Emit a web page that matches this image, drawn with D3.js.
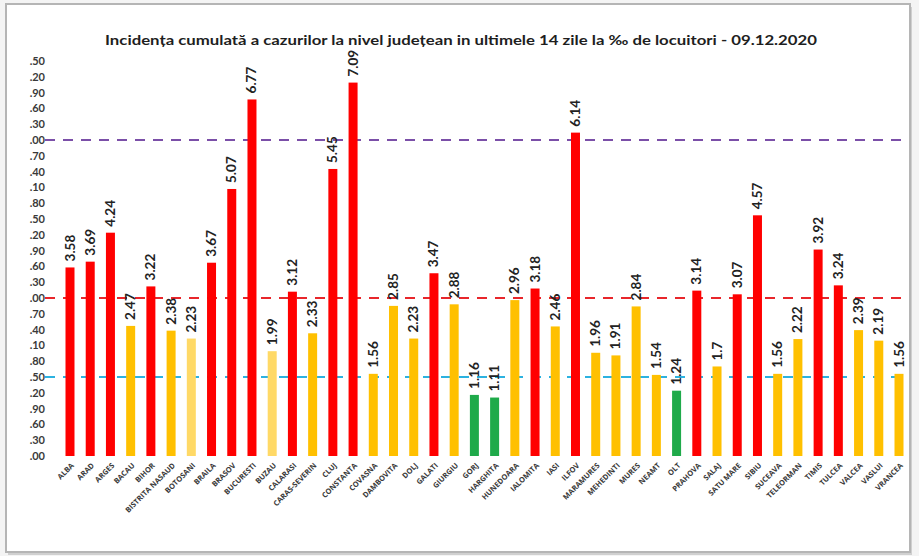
<!DOCTYPE html>
<html>
<head>
<meta charset="utf-8">
<script src="https://cdn.jsdelivr.net/npm/d3@7"></script>
<style>
  html, body { margin: 0; padding: 0; background: #ffffff; }
  svg { display: block; }
</style>
</head>
<body>
<svg id="chart" width="919" height="556"></svg>
<script>
// ---------- DATA ----------
const counties = ["ALBA","ARAD","ARGES","BACAU","BIHOR","BISTRITA NASAUD","BOTOSANI","BRAILA","BRASOV","BUCURESTI",
  "BUZAU","CALARASI","CARAS-SEVERIN","CLUJ","CONSTANTA","COVASNA","DAMBOVITA","DOLJ","GALATI","GIURGIU",
  "GORJ","HARGHITA","HUNEDOARA","IALOMITA","IASI","ILFOV","MARAMURES","MEHEDINTI","MURES","NEAMT",
  "OLT","PRAHOVA","SALAJ","SATU MARE","SIBIU","SUCEAVA","TELEORMAN","TIMIS","TULCEA","VALCEA","VASLUI","VRANCEA"];
const incidence = [3.58,3.69,4.24,2.47,3.22,2.38,2.23,3.67,5.07,6.77,
  1.99,3.12,2.33,5.45,7.09,1.56,2.85,2.23,3.47,2.88,
  1.16,1.11,2.96,3.18,2.46,6.14,1.96,1.91,2.84,1.54,
  1.24,3.14,1.7,3.07,4.57,1.56,2.22,3.92,3.24,2.39,2.19,1.56];
const valueLabels = ["3.58","3.69","4.24","2.47","3.22","2.38","2.23","3.67","5.07","6.77",
  "1.99","3.12","2.33","5.45","7.09","1.56","2.85","2.23","3.47","2.88",
  "1.16","1.11","2.96","3.18","2.46","6.14","1.96","1.91","2.84","1.54",
  "1.24","3.14","1.7","3.07","4.57","1.56","2.22","3.92","3.24","2.39","2.19","1.56"];
const paleCounties = ["BOTOSANI","BUZAU"];
const thresholds = [1.5, 3, 6];
const yTicks = [0,0.3,0.6,0.9,1.2,1.5,1.8,2.1,2.4,2.7,3,3.3,3.6,3.9,4.2,4.5,4.8,5.1,5.4,5.7,6,6.3,6.6,6.9,7.2,7.5];
const title = "Incidența cumulată a cazurilor la nivel județean in ultimele 14 zile la ‰ de locuitori - 09.12.2020";

// ---------- LAYOUT ----------
const svg = d3.select("#chart");
const W = 919, H = 556;

svg.append("rect").attr("x", 0).attr("y", 0).attr("width", W).attr("height", H).attr("fill", "#f4f4f4");
// shadow
svg.append("rect").attr("x", 8).attr("y", 7).attr("width", 904).attr("height", 548).attr("fill", "#d0d0d0");
svg.append("rect").attr("x", 6).attr("y", 4).attr("width", 904).attr("height", 548)
  .attr("fill", "#ffffff").attr("stroke", "#b5b5b5").attr("stroke-width", 2);

const x = d3.scalePoint().domain(counties).range([70, 899]);
const y = d3.scaleLinear().domain([0, 7.5]).range([456, 61]);

const color = d3.scaleThreshold().domain([1.5, 3]).range(["#1faa4a", "#ffc000", "#ff0000"]);
const barColor = (d, i) => paleCounties.includes(counties[i]) ? "#ffd966" : color(d);

// title
svg.append("text")
  .attr("x", 461).attr("y", 45)
  .attr("text-anchor", "middle")
  .attr("font-family", "Lato, 'Open Sans', sans-serif")
  .attr("font-weight", "bold")
  .attr("font-size", 14)
  .attr("fill", "#1e1e1e")
  .attr("textLength", 712)
  .attr("lengthAdjust", "spacingAndGlyphs")
  .text(title);

// y axis labels (leading digit cut off as in the reference)
const yAxis = d3.axisLeft(y).tickValues(yTicks).tickSize(0)
  .tickFormat(d => d3.format(".2f")(d).slice(1));
const gy = svg.append("g").attr("transform", "translate(45,0)").call(yAxis);
gy.select(".domain").remove();
gy.selectAll("text")
  .attr("x", 0)
  .attr("font-family", "Lato, 'Open Sans', sans-serif")
  .attr("font-weight", "bold")
  .attr("font-size", 11)
  .attr("fill", "#3a3a3a");

// threshold lines
const lineColors = ["#2cb2e0", "#e8262b", "#7b4fa8"];
svg.append("g").selectAll("line").data(thresholds).join("line")
  .attr("x1", 45).attr("x2", 903)
  .attr("y1", d => y(d)).attr("y2", d => y(d))
  .attr("stroke", (d, i) => lineColors[i])
  .attr("stroke-width", 2.2)
  .attr("stroke-dasharray", "10,8");

// bars
const bw = 9;
svg.append("g").selectAll("rect").data(incidence).join("rect")
  .attr("x", (d, i) => x(counties[i]) - bw / 2)
  .attr("y", d => y(d))
  .attr("width", bw)
  .attr("height", d => y(0) - y(d))
  .attr("fill", barColor);

// value labels
svg.append("g").selectAll("text").data(incidence).join("text")
  .attr("transform", (d, i) => `translate(${x(counties[i]) + 4.5},${y(d) - 6}) rotate(-90)`)
  .attr("font-family", "Lato, 'Open Sans', sans-serif")
  .attr("font-weight", "bold")
  .attr("font-size", 13.5)
  .attr("fill", "#222")
  .text((d, i) => valueLabels[i]);

// x axis labels
const xAxis = d3.axisBottom(x).tickSize(0);
const gx = svg.append("g").attr("transform", `translate(0,${y(0)})`).call(xAxis);
gx.select(".domain").remove();
gx.selectAll("text")
  .attr("text-anchor", "end")
  .attr("transform", "translate(4,10) rotate(-45)")
  .attr("x", 0).attr("y", 0).attr("dy", 0)
  .attr("font-family", "'Open Sans', sans-serif")
  .attr("font-weight", "bold")
  .attr("font-size", 7.5)
  .attr("fill", "#3a3a3a");
</script>
</body>
</html>
